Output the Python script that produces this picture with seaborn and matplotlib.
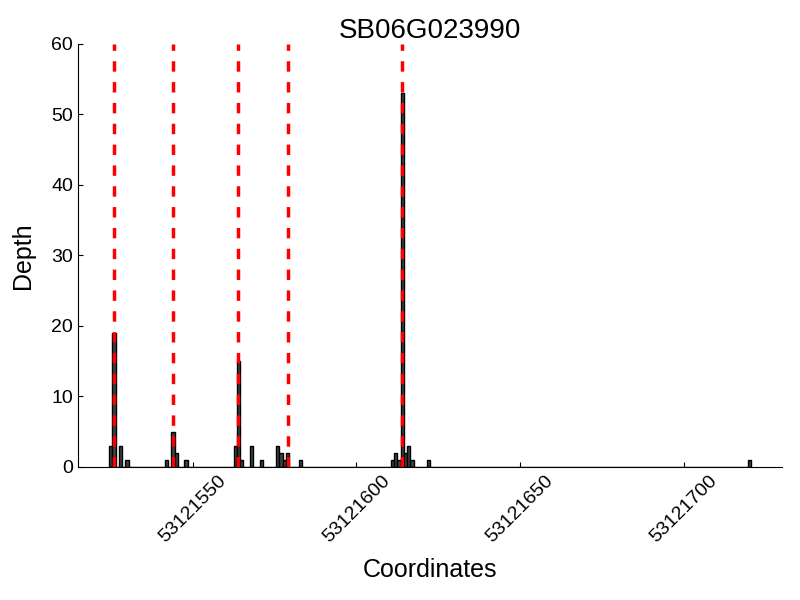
import matplotlib
matplotlib.use('Agg')
import matplotlib.pyplot as plt
from matplotlib.ticker import MultipleLocator
import seaborn as sns

gene = 'SB06G023990'
positions = [53121525, 53121526, 53121528, 53121530,
             53121542, 53121544, 53121545, 53121548,
             53121563, 53121564, 53121565, 53121568, 53121571,
             53121576, 53121577, 53121578, 53121579, 53121583,
             53121611, 53121612, 53121613, 53121614, 53121615, 53121616, 53121617, 53121622,
             53121720]
depths = [3, 19, 3, 1,
          1, 5, 2, 1,
          3, 15, 1, 3, 1,
          3, 2, 1, 2, 1,
          1, 2, 1, 53, 2, 3, 1, 1,
          1]
sites = [53121526, 53121544, 53121564, 53121579, 53121614]

sns.set_style('ticks', {'text.color': 'black', 'axes.labelcolor': 'black',
                        'xtick.color': 'black', 'ytick.color': 'black',
                        'axes.edgecolor': 'black'})
plt.rcParams['font.family'] = ['Liberation Sans', 'DejaVu Sans']

fig = plt.figure(figsize=(8, 6), dpi=100)
ax = fig.add_axes([0.0975, 0.2217, 0.88, 0.705])

sns.histplot(x=positions, weights=depths, discrete=True, color='0.25',
             edgecolor='black', linewidth=1, alpha=1, ax=ax)
for s in sites:
    ax.axvline(s, color='red', linestyle='--', linewidth=2.5, dashes=(3, 3))

ax.set_xlim(min(positions) - 10, max(positions) + 10)
ax.set_ylim(0, 60)
ax.xaxis.set_major_locator(MultipleLocator(50))
ax.ticklabel_format(axis='x', useOffset=False, style='plain')
ax.tick_params(direction='in', labelsize=14, colors='black')
plt.setp(ax.get_xticklabels(), rotation=45)
sns.despine(ax=ax)
ax.set_title(gene, fontsize=20, pad=4, color='black')
ax.set_xlabel('Coordinates', fontsize=18, labelpad=9)
ax.set_ylabel('Depth', fontsize=18, labelpad=12)

fig.savefig('out.png', dpi=100)
